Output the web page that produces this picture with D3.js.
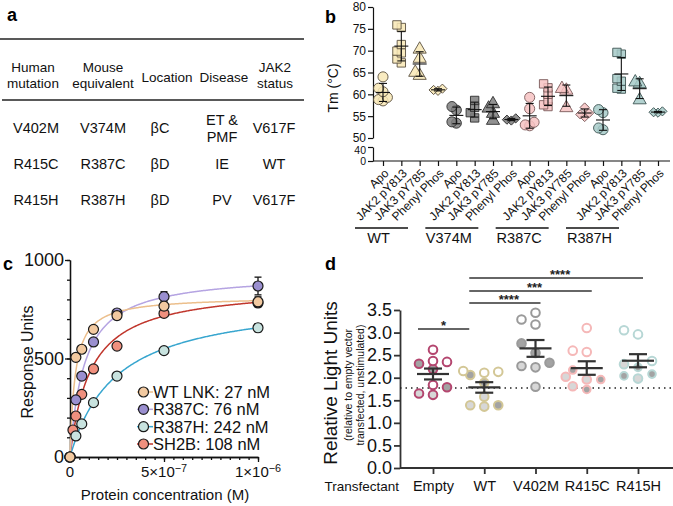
<!DOCTYPE html>
<html><head><meta charset="utf-8">
<script src="https://cdn.jsdelivr.net/npm/d3@7"></script>
<style>
body{margin:0;background:#fff;}
svg{display:block;}
</style></head><body>
<svg id="fig" width="673" height="506"></svg>
<script>
// ================= DATA =================
// Panel a: table
const tableHeaders = [["Human","mutation"],["Mouse","equivalent"],["Location"],["Disease"],["JAK2","status"]];
const tableRows = [
  [["V402M"],["V374M"],["βC"],["ET &","PMF"],["V617F"]],
  [["R415C"],["R387C"],["βD"],["IE"],["WT"]],
  [["R415H"],["R387H"],["βD"],["PV"],["V617F"]]
];

// Panel b: Tm (°C)
const bGroups = ["WT","V374M","R387C","R387H"];
const bLigands = ["Apo","JAK2 pY813","JAK3 pY785","Phenyl Phos"];
const bTicksUpper = [50,55,60,65,70,75,80];
const bTicksLower = [0,40];
const tmWT    = [[64.0,61.4,60.6,59.3,58.5,58.8],[75.9,75.3,71.4,69.9,69.5,68.1,67.2],[70.3,68.2,65.0,64.3],[61.3,60.8,61.0]];
const tmV374M = [[57.2,56.4,53.7,53.4],[58.6,57.0,55.8,54.6],[57.8,56.8,55.6,54.0],[54.5,54.2,54.0]];
const tmR387C = [[59.3,56.7,53.6,53.0,52.8],[62.4,61.5,60.0,58.6,57.6,57.2],[61.3,60.9,56.9],[57.0,55.7,54.8,55.4]];
const tmR387H = [[56.5,55.8,52.3,51.9],[69.6,69.2,63.6,63.0,61.4,61.2],[62.8,62.4,58.7],[56.1,55.8,55.9]];
const tmData = [tmWT, tmV374M, tmR387C, tmR387H];

// Panel c: binding (Response Units vs concentration, M)
const cSeries = ["WT LNK","R387C","R387H","SH2B"];
const cKdNM = [27, 76, 242, 108];
const cBmax = [815, 935, 815, 870];
const concM = [0, 1.5625e-8, 3.125e-8, 6.25e-8, 1.25e-7, 2.5e-7, 5e-7, 1e-6];
const ruWT    = [0, null, 506, 547, 648, 718, 766, 788];
const ruR387C = [0, null, 290, 411, 584, 731, 814, 868];
const ruR387H = [0, null, 107, 168, 276, 411, 540, 656];
const ruSH2B  = [0, 137, 208, 318, 447, 563, 729, 782];
const errWT    = [0,0,0,0,0,20,10,25];
const errR387C = [0,0,0,0,0,0,25,45];
const errR387H = [0,0,0,0,0,0,0,20];
const errSH2B  = [0,0,0,0,0,0,0,15];
const cYTicks = [0,500,1000];
const cXTicks = [0,5e-7,1e-6];
const cXTickMant = ["0","5×10","1×10"];
const cXTickExp = ["","−7","−6"];

// Panel d: Relative Light Units
const dGroups = ["Empty","WT","V402M","R415C","R415H"];
const rluOpen  = [[2.62,2.35,2.37,1.84],[2.15,2.11,2.13],[3.29,3.44,3.18],[3.10,2.60,2.57],[3.05,2.96,2.37]];
const rluLight = [[1.62,1.65],[1.58,1.36,1.39],[2.23,2.26,1.80],[2.02,1.96,1.81],[2.30,1.98]];
const rluDark  = [[2.31,2.19,1.79],[2.06,1.89,1.39],[2.76,2.55,2.33],[2.17,1.96,1.74],[2.23,2.08,2.04]];
const dYTicks = [0,0.5,1.0,1.5,2.0,2.5,3.0,3.5];
const rluBaseline = 1.77;
const sigPairs = [["Empty","WT","*"],["WT","V402M","****"],["WT","R415C","***"],["WT","R415H","****"]];

// ================= STYLE =================
const FONT = "'Liberation Sans', Arial, Helvetica, sans-serif";
const bFill = ["#f8e7b5","#7e7e7e","#f6c2c2","#a6cac8"];
const bStroke = ["#5a5040","#2e2e2e","#7a5a5a","#3e5554"];
const cFill = ["#f2c9a0","#9a8fcf","#c8e3df","#f0907e"];
const cLine = ["#ecbf8c","#b5a4e2","#38a6cf","#c0362c"];
const dStroke = ["#b4466f","#d3c796","#9a9a9a","#f5b8b8","#b7d7d5"];

const svg = d3.select("#fig").attr("font-family", FONT);

function styleAxis(g, fs, color, w){
  g.attr("font-family", FONT).attr("font-size", fs);
  g.selectAll("path.domain, .tick line").attr("stroke", color).attr("stroke-width", w);
  g.selectAll(".tick text").attr("fill", "#111");
}
function swarm(vals, yScale, step, cands, minD){
  const pts = vals.map((p,i)=>({...p, y: yScale(p.v)})).sort((a,b)=>a.v-b.v);
  const placed = [];
  pts.forEach(p=>{
    let best = null;
    for(const c of cands){
      const dx = c*step;
      if(placed.every(q=>Math.hypot(q.dx-dx, q.y-p.y) >= minD)){ best = dx; break; }
    }
    if(best === null){
      let bd = -1;
      for(const c of cands){
        const dx = c*step;
        const md = d3.min(placed, q=>Math.hypot(q.dx-dx, q.y-p.y));
        if(md > bd){ bd = md; best = dx; }
      }
    }
    p.dx = best; placed.push(p);
  });
  return pts;
}

// ================= PANEL LETTERS =================
[["a",7,21],["b",325,23],["c",3,270],["d",325,270]].forEach(([t,x,y])=>{
  svg.append("text").attr("x",x).attr("y",y).attr("font-size",18).attr("font-weight","bold").text(t);
});

// ================= PANEL A =================
const gA = svg.append("g");
const headX = [33,103,167,224,275];
const rowX = [36,103,160,222,274];
gA.append("line").attr("x1",0).attr("x2",304).attr("y1",39).attr("y2",39).attr("stroke","#222").attr("stroke-width",1.5);
gA.append("line").attr("x1",2).attr("x2",304).attr("y1",100).attr("y2",100).attr("stroke","#222").attr("stroke-width",1.5);
tableHeaders.forEach((h,i)=>{
  const t = gA.append("text").attr("text-anchor","middle").attr("font-size",13.5).attr("fill","#111");
  if(h.length===1) t.attr("x",headX[i]).attr("y",82).text(h[0]);
  else h.forEach((s,j)=>t.append("tspan").attr("x",headX[i]).attr("y",72+j*16).text(s));
});
const rowY = d3.scalePoint().domain(d3.range(tableRows.length)).range([133,205]);
tableRows.forEach((r,ri)=>{
  r.forEach((cell,ci)=>{
    const t = gA.append("text").attr("text-anchor","middle").attr("font-size",14.5).attr("fill","#111");
    if(cell.length===1) t.attr("x",rowX[ci]).attr("y",rowY(ri)).text(cell[0]);
    else cell.forEach((s,j)=>t.append("tspan").attr("x",rowX[ci]).attr("y",rowY(ri)-8+j*17).text(s));
  });
});

// ================= PANEL B =================
const gB = svg.append("g");
const bKeys = bGroups.flatMap(g=>bLigands.map(l=>g+"|"+l));
const xB = d3.scalePoint().domain(bKeys).range([383,658]);
const yB = d3.scaleLinear().domain([50,80]).range([138,7]);
const yB0 = d3.scaleLinear().domain([0,40]).range([161,147]);

const axBU = gB.append("g").attr("transform","translate(373,0)")
  .call(d3.axisLeft(yB).tickValues(bTicksUpper).tickSize(5).tickSizeOuter(0).tickPadding(2));
styleAxis(axBU, 12, "#111", 1.2);
const axBL = gB.append("g").attr("transform","translate(373,0)")
  .call(d3.axisLeft(yB0).tickValues(bTicksLower).tickSize(5).tickSizeOuter(0).tickPadding(2));
styleAxis(axBL, 10.5, "#111", 1.2);
axBL.selectAll(".tick text").filter(d=>d===40).attr("dy","0.62em");
gB.append("line").attr("x1",373).attr("x2",670).attr("y1",161).attr("y2",161).attr("stroke","#111").attr("stroke-width",1.2);
const axBX = gB.append("g").attr("transform","translate(0,161)")
  .call(d3.axisBottom(xB).tickSize(5).tickFormat(k=>k.split("|")[1]));
axBX.select(".domain").remove();
styleAxis(axBX, 12, "#111", 1.2);
axBX.selectAll(".tick text").attr("text-anchor","end").attr("x",0).attr("y",0).attr("dy","0.35em")
  .attr("transform","translate(3,10) rotate(-45)");

gB.append("text").attr("transform","translate(338,88) rotate(-90)").attr("text-anchor","middle")
  .attr("font-size",14).attr("fill","#111").text("Tm (°C)");

bGroups.forEach((g,gi)=>{
  const x0 = xB(g+"|"+bLigands[0]) - 28 - 3*gi;
  const x1 = xB(g+"|"+bLigands[3]) - 30 - 3*gi;
  gB.append("line").attr("x1",x0).attr("x2",x1).attr("y1",228).attr("y2",228).attr("stroke","#111").attr("stroke-width",1.3);
  gB.append("text").attr("x",(x0+x1)/2-3).attr("y",243).attr("text-anchor","middle").attr("font-size",14.5).attr("fill","#111").text(g);
});

const symTypes = [d3.symbolCircle, d3.symbolSquare, d3.symbolTriangle, d3.symbolSquare];
const symSizes = [80, 70, 75, 42];
tmData.forEach((grp,gi)=>grp.forEach((vals,li)=>{
  const cx = xB(bGroups[gi]+"|"+bLigands[li]);
  const sw = swarm(vals.map(v=>({v})), yB, 2.2, [0,-1,1,-2,2], 6);
  const m = d3.mean(vals), sd = d3.deviation(vals);
  gB.selectAll(null).data(sw).join("path")
    .attr("d", d3.symbol(symTypes[li], symSizes[li]))
    .attr("transform", d=>`translate(${cx+d.dx},${yB(d.v)})${li===3?" rotate(45)":""}`)
    .attr("fill", bFill[gi]).attr("fill-opacity",0.85).attr("stroke", bStroke[gi]).attr("stroke-width",0.9);
  const eg = gB.append("g").attr("stroke","#111").attr("stroke-width",1.1);
  eg.append("line").attr("x1",cx).attr("x2",cx).attr("y1",yB(m-sd)).attr("y2",yB(m+sd));
  eg.append("line").attr("x1",cx-4).attr("x2",cx+4).attr("y1",yB(m-sd)).attr("y2",yB(m-sd));
  eg.append("line").attr("x1",cx-4).attr("x2",cx+4).attr("y1",yB(m+sd)).attr("y2",yB(m+sd));
  eg.append("line").attr("x1",cx-7).attr("x2",cx+7).attr("y1",yB(m)).attr("y2",yB(m));
}));

// ================= PANEL C =================
const gC = svg.append("g");
const xC = d3.scaleLinear().domain([0,1e-6]).range([70,258]);
const yC = d3.scaleLinear().domain([0,1000]).range([457,260]);
const axCmin = gC.append("g").attr("transform","translate(70,0)")
  .call(d3.axisLeft(yC).tickValues(d3.range(0,1001,100)).tickSize(3).tickFormat("").tickSizeOuter(0));
styleAxis(axCmin, 18, "#111", 1.3);
const axCmaj = gC.append("g").attr("transform","translate(70,0)")
  .call(d3.axisLeft(yC).tickValues(cYTicks).tickSize(5).tickSizeOuter(0).tickPadding(1).tickFormat(d3.format("d")));
styleAxis(axCmaj, 18, "#111", 1.3);
const axCxmin = gC.append("g").attr("transform","translate(0,457)")
  .call(d3.axisBottom(xC).tickValues(d3.range(0,21).map(i=>i*5e-8)).tickSize(3).tickFormat("").tickSizeOuter(0));
styleAxis(axCxmin, 15, "#111", 1.3);
const axCxmaj = gC.append("g").attr("transform","translate(0,457)")
  .call(d3.axisBottom(xC).tickValues(cXTicks).tickSize(5).tickFormat("").tickSizeOuter(0));
styleAxis(axCxmaj, 15, "#111", 1.3);
cXTicks.forEach((v,i)=>{
  const t = gC.append("text").attr("x",xC(v)).attr("y",477).attr("text-anchor","middle").attr("font-size",15).attr("fill","#111");
  t.append("tspan").text(cXTickMant[i]);
  if(cXTickExp[i]) t.append("tspan").attr("dy","-0.45em").attr("font-size","0.72em").text(cXTickExp[i]);
});
gC.append("text").attr("transform","translate(33,362) rotate(-90)").attr("text-anchor","middle")
  .attr("font-size",16).attr("fill","#111").text("Response Units");
gC.append("text").attr("x",165).attr("y",500).attr("text-anchor","middle")
  .attr("font-size",15).attr("fill","#111").text("Protein concentration (M)");

const cValues = [ruWT, ruR387C, ruR387H, ruSH2B];
const cErr = [errWT, errR387C, errR387H, errSH2B];
const fitGrid = d3.range(0, 201).map(i=>i*5e-9);
const lineC = d3.line().x(d=>xC(d[0])).y(d=>yC(d[1]));
[3,2,1,0].forEach(si=>{
  const kd = cKdNM[si]*1e-9;
  gC.append("path").datum(fitGrid.map(x=>[x, cBmax[si]*x/(kd+x)]))
    .attr("d", lineC).attr("fill","none").attr("stroke", cLine[si]).attr("stroke-width",1.5);
});
[3,2,1,0].forEach(si=>{
  const pts = concM.map((c,i)=>({c, v:cValues[si][i], e:cErr[si][i]})).filter(d=>d.v!==null);
  const eg = gC.append("g").attr("stroke","#111").attr("stroke-width",1.3);
  pts.filter(d=>d.e>0).forEach(d=>{
    const x = xC(d.c);
    eg.append("line").attr("x1",x).attr("x2",x).attr("y1",yC(d.v-d.e)).attr("y2",yC(d.v+d.e));
    eg.append("line").attr("x1",x-3.5).attr("x2",x+3.5).attr("y1",yC(d.v-d.e)).attr("y2",yC(d.v-d.e));
    eg.append("line").attr("x1",x-3.5).attr("x2",x+3.5).attr("y1",yC(d.v+d.e)).attr("y2",yC(d.v+d.e));
  });
  gC.selectAll(null).data(pts).join("circle")
    .attr("cx",d=>xC(d.c)).attr("cy",d=>yC(d.v)).attr("r",5)
    .attr("fill",cFill[si]).attr("stroke","#1a1a1a").attr("stroke-width",1.2);
});
const legY = d3.scalePoint().domain(cSeries).range([392,444]);
cSeries.forEach((s,i)=>{
  const y = legY(s);
  gC.append("line").attr("x1",137).attr("x2",153).attr("y1",y).attr("y2",y).attr("stroke",cLine[i]).attr("stroke-width",1.5);
  gC.append("circle").attr("cx",143.5).attr("cy",y).attr("r",5).attr("fill",cFill[i]).attr("stroke","#1a1a1a").attr("stroke-width",1.2);
  gC.append("text").attr("x",153).attr("y",y+6).attr("font-size",16.5).attr("fill","#111").text(`${s}: ${cKdNM[i]} nM`);
});

// ================= PANEL D =================
const gD = svg.append("g");
const xD = d3.scalePoint().domain(dGroups).range([433,638]);
const yD = d3.scaleLinear().domain([0,3.5]).range([468,310]);
const axDY = gD.append("g").attr("transform","translate(400,0)")
  .call(d3.axisLeft(yD).tickValues(dYTicks).tickSize(6).tickSizeOuter(0).tickPadding(2).tickFormat(d3.format(".1f")));
styleAxis(axDY, 18, "#333", 1.8);
gD.append("line").attr("x1",400).attr("x2",673).attr("y1",468).attr("y2",468).attr("stroke","#333").attr("stroke-width",1.8);
const axDX = gD.append("g").attr("transform","translate(0,468)")
  .call(d3.axisBottom(xD).tickSize(6).tickPadding(7));
axDX.select(".domain").remove();
styleAxis(axDX, 14.5, "#333", 1.8);
gD.append("text").attr("x",399).attr("y",491).attr("text-anchor","end").attr("font-size",13.5).attr("fill","#111").text("Transfectant");
gD.append("text").attr("transform","translate(337,383) rotate(-90)").attr("text-anchor","middle")
  .attr("font-size",19).attr("fill","#111").text("Relative Light Units");
const sub = gD.append("text").attr("transform","translate(352,385) rotate(-90)").attr("text-anchor","middle")
  .attr("font-size",10.5).attr("fill","#111");
sub.append("tspan").attr("x",0).attr("y",0).text("(relative to empty vector");
sub.append("tspan").attr("x",0).attr("y",12).text("transfected, unstimulated)");

gD.append("line").attr("x1",400).attr("x2",673).attr("y1",yD(rluBaseline)).attr("y2",yD(rluBaseline))
  .attr("stroke","#222").attr("stroke-width",1.5).attr("stroke-dasharray","1.5,4");

const sigY = [329,303,291,278];
sigPairs.forEach(([a,b,s],i)=>{
  const x0 = xD(a)-15, x1 = i===0 ? xD(b)-15 : xD(b)+5;
  gD.append("line").attr("x1",x0).attr("x2",x1).attr("y1",sigY[i]).attr("y2",sigY[i]).attr("stroke","#666").attr("stroke-width",2);
  gD.append("text").attr("x",(x0+x1)/2+(i===0?0:4)).attr("y",sigY[i]+1).attr("text-anchor","middle")
    .attr("font-size",13).attr("font-weight","bold").attr("fill","#222").text(s);
});

dGroups.forEach((g,gi)=>{
  const cx = xD(g);
  const pts = [
    ...rluOpen[gi].map(v=>({v,k:"open"})),
    ...rluLight[gi].map(v=>({v,k:"light"})),
    ...rluDark[gi].map(v=>({v,k:"dark"}))
  ];
  const sw = swarm(pts, yD, 7, [0,-2,2,-1,1,-3,3], 9.5);
  gD.selectAll(null).data(sw).join("circle")
    .attr("cx",d=>cx+d.dx).attr("cy",d=>yD(d.v)).attr("r",d=>d.k==="dark" && gi>=3 ? 3.8 : 4.3)
    .attr("fill",d=>d.k==="open" ? "#fff" : d.k==="light" ? "#d7d7d7" : "#a3a3a3")
    .attr("stroke",dStroke[gi]).attr("stroke-width",2);
  const all = pts.map(d=>d.v);
  const m = d3.mean(all), se = d3.deviation(all)/Math.sqrt(all.length);
  const eg = gD.append("g").attr("stroke","#333").attr("stroke-width",2.2);
  eg.append("line").attr("x1",cx).attr("x2",cx).attr("y1",yD(m-se)).attr("y2",yD(m+se));
  eg.append("line").attr("x1",cx-9).attr("x2",cx+9).attr("y1",yD(m-se)).attr("y2",yD(m-se));
  eg.append("line").attr("x1",cx-9).attr("x2",cx+9).attr("y1",yD(m+se)).attr("y2",yD(m+se));
  eg.append("line").attr("x1",cx-16).attr("x2",cx+16).attr("y1",yD(m)).attr("y2",yD(m));
});
</script>
</body></html>
